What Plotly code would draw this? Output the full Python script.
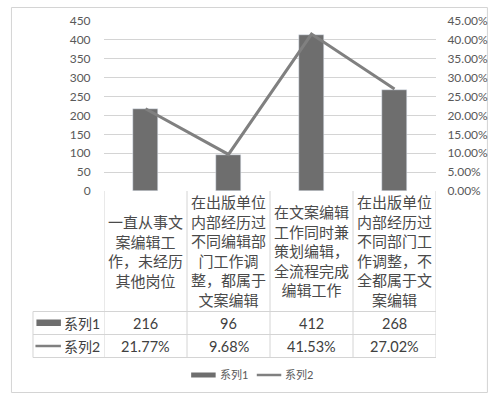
import plotly.graph_objects as go

# ---- data ----
categories = [
    "一直从事文<br>案编辑工<br>作，未经历<br>其他岗位",
    "在出版单位<br>内部经历过<br>不同编辑部<br>门工作调<br>整，都属于<br>文案编辑",
    "在文案编辑<br>工作同时兼<br>策划编辑，<br>全流程完成<br>编辑工作",
    "在出版单位<br>内部经历过<br>不同部门工<br>作调整，不<br>全都属于文<br>案编辑",
]
series_names = ["系列1", "系列2"]
series1 = [216, 96, 412, 268]
series2 = [0.2177, 0.0968, 0.4153, 0.2702]
left_ticks = [0, 50, 100, 150, 200, 250, 300, 350, 400, 450]
right_ticks = [0, 0.05, 0.10, 0.15, 0.20, 0.25, 0.30, 0.35, 0.40, 0.45]

# ---- layout helpers (pixel -> paper) ----
W, H = 500, 400
PL, PR, PT, PB = 104, 443, 21, 191


def X(px):
    return (px - PL) / (PR - PL)


def Y(py):
    return (PB - py) / (PB - PT)


FONT = "Lato, Noto Sans CJK SC, sans-serif"
BAR_C = "#6e6e6e"
LINE_C = "#808080"
GRID_C = "#d4d4d4"
TXT_C = "#404040"

xs = list(range(len(categories)))

fig = go.Figure()
fig.add_trace(go.Bar(x=xs, y=series1, name=series_names[0], marker_color=BAR_C,
                     width=0.31, showlegend=False))
fig.add_trace(go.Scatter(x=xs, y=series2, name=series_names[1], yaxis="y2",
                         mode="lines", line=dict(color=LINE_C, width=3),
                         showlegend=False))

shapes = []
annotations = []


def note(x, y, text, size, color=TXT_C, xref="paper", xanchor="center"):
    annotations.append(dict(x=x, xref=xref, y=y, yref="paper", text=text,
                            showarrow=False, xanchor=xanchor, yanchor="middle",
                            font=dict(family=FONT, size=size, color=color)))


# outer border
shapes.append(dict(type="rect", xref="paper", yref="paper", x0=X(9.5), x1=X(495.5),
                   y0=Y(392.5), y1=Y(7.5), line=dict(color=GRID_C, width=1),
                   layer="below"))

# table grid
row_y = [311.5, 334.5, 357.5]
for ry in row_y:
    shapes.append(dict(type="line", xref="paper", yref="paper", x0=X(31.5), x1=X(PR),
                       y0=Y(ry), y1=Y(ry), line=dict(color=GRID_C, width=1)))
for i in range(len(categories) + 1):
    shapes.append(dict(type="line", xref="x", yref="paper", x0=i - 0.5, x1=i - 0.5,
                       y0=Y(PB), y1=Y(357.5), line=dict(color=GRID_C, width=1)))
shapes.append(dict(type="line", xref="paper", yref="paper", x0=X(31.5), x1=X(31.5),
                   y0=Y(311.5), y1=Y(357.5), line=dict(color=GRID_C, width=1)))

# header text
for i, c in enumerate(categories):
    note(i, Y(251), c, 15, color="#4a4a4a", xref="x")
# values rows
for i, v in enumerate(series1):
    note(i, Y(323), str(v), 14.5, xref="x")
for i, v in enumerate(series2):
    note(i, Y(346.5), f"{v:.2%}", 14.5, xref="x")

# row labels with keys
shapes.append(dict(type="rect", xref="paper", yref="paper", x0=X(35), x1=X(60),
                   y0=Y(326), y1=Y(319.5), fillcolor=BAR_C, line=dict(width=0)))
shapes.append(dict(type="line", xref="paper", yref="paper", x0=X(34), x1=X(60),
                   y0=Y(346), y1=Y(346), line=dict(color=LINE_C, width=2.5)))
note(X(61), Y(323), series_names[0], 14, xanchor="left")
note(X(61), Y(346.5), series_names[1], 14, xanchor="left")

# bottom legend
shapes.append(dict(type="rect", xref="paper", yref="paper", x0=X(193), x1=X(218),
                   y0=Y(377.5), y1=Y(372.5), fillcolor=BAR_C, line=dict(width=0)))
note(X(220), Y(375), series_names[0], 11, color="#595959", xanchor="left")
shapes.append(dict(type="line", xref="paper", yref="paper", x0=X(260), x1=X(285),
                   y0=Y(375), y1=Y(375), line=dict(color=LINE_C, width=2.5)))
note(X(287), Y(375), series_names[1], 11, color="#595959", xanchor="left")

fig.update_layout(
    width=W, height=H,
    margin=dict(l=PL, r=W - PR, t=PT, b=H - PB, pad=0),
    paper_bgcolor="white", plot_bgcolor="white",
    font=dict(family=FONT, size=12, color="#595959"),
    showlegend=False,
    bargap=0,
    xaxis=dict(range=[-0.5, len(categories) - 0.5], showticklabels=False,
               showgrid=False, zeroline=False, showline=False, fixedrange=True),
    yaxis=dict(range=[0, 450], tickvals=left_ticks, showgrid=True, gridcolor=GRID_C,
               gridwidth=1, zeroline=False, showline=False, ticks="outside",
               ticklen=0, ticklabelstandoff=10,
               tickfont=dict(family=FONT, size=12, color="#595959")),
    yaxis2=dict(range=[0, 0.45], tickvals=right_ticks, tickformat=".2%",
                overlaying="y", side="right", showgrid=False, zeroline=False,
                showline=False, ticks="outside", ticklen=0, ticklabelstandoff=8,
                tickfont=dict(family=FONT, size=12, color="#595959")),
    shapes=shapes,
    annotations=annotations,
)

fig.write_html("out.html", config={"displayModeBar": False},
               post_script="document.body.style.margin='0px';"
                           "document.body.style.overflow='hidden';")
